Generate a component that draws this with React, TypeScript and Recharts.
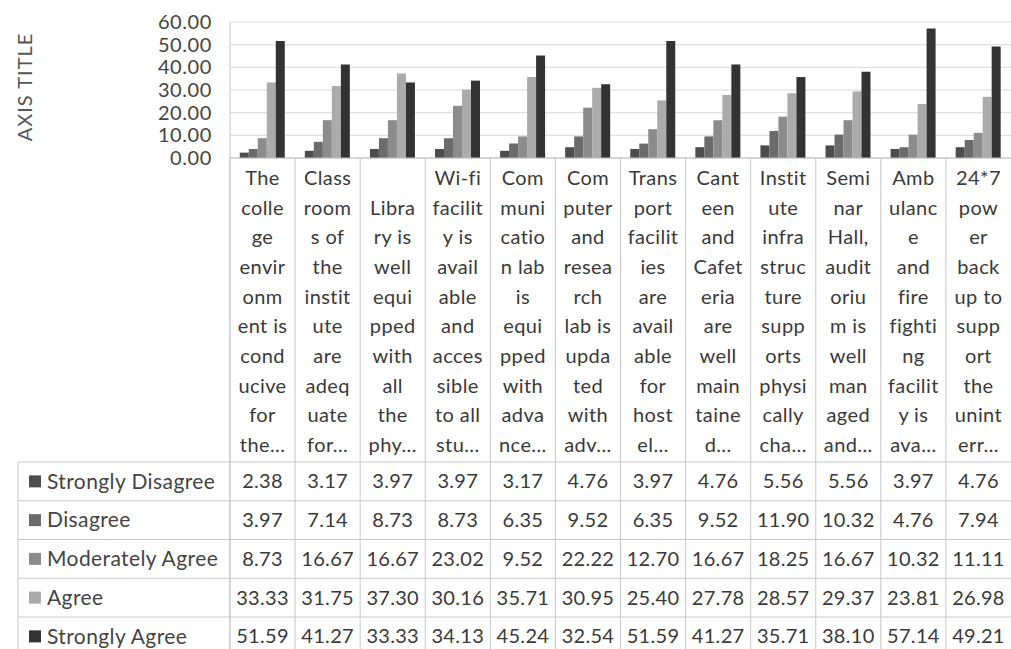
import React from 'react';
import { BarChart, Bar, XAxis, YAxis, CartesianGrid } from 'recharts';

const CATEGORIES = ['C1', 'C2', 'C3', 'C4', 'C5', 'C6', 'C7', 'C8', 'C9', 'C10', 'C11', 'C12'];

// wrapped tick labels, as Excel breaks them inside each column
const TICK_LINES = [
  ['The', 'colle', 'ge', 'envir', 'onm', 'ent is', 'cond', 'ucive', 'for', 'the...'],
  ['Class', 'room', 's of', 'the', 'instit', 'ute', 'are', 'adeq', 'uate', 'for...'],
  ['', 'Libra', 'ry is', 'well', 'equi', 'pped', 'with', 'all', 'the', 'phy...'],
  ['Wi-fi', 'facilit', 'y is', 'avail', 'able', 'and', 'acces', 'sible', 'to all', 'stu...'],
  ['Com', 'muni', 'catio', 'n lab', 'is', 'equi', 'pped', 'with', 'adva', 'nce...'],
  ['Com', 'puter', 'and', 'resea', 'rch', 'lab is', 'upda', 'ted', 'with', 'adv...'],
  ['Trans', 'port', 'facilit', 'ies', 'are', 'avail', 'able', 'for', 'host', 'el...'],
  ['Cant', 'een', 'and', 'Cafet', 'eria', 'are', 'well', 'main', 'taine', 'd...'],
  ['Instit', 'ute', 'infra', 'struc', 'ture', 'supp', 'orts', 'physi', 'cally', 'cha...'],
  ['Semi', 'nar', 'Hall,', 'audit', 'oriu', 'm is', 'well', 'man', 'aged', 'and...'],
  ['Amb', 'ulanc', 'e', 'and', 'fire', 'fighti', 'ng', 'facilit', 'y is', 'ava...'],
  ['24*7', 'pow', 'er', 'back', 'up to', 'supp', 'ort', 'the', 'unint', 'err...'],
];

const STRONGLY_DISAGREE = [2.38, 3.17, 3.97, 3.97, 3.17, 4.76, 3.97, 4.76, 5.56, 5.56, 3.97, 4.76];
const DISAGREE = [3.97, 7.14, 8.73, 8.73, 6.35, 9.52, 6.35, 9.52, 11.9, 10.32, 4.76, 7.94];
const MODERATELY_AGREE = [8.73, 16.67, 16.67, 23.02, 9.52, 22.22, 12.7, 16.67, 18.25, 16.67, 10.32, 11.11];
const AGREE = [33.33, 31.75, 37.3, 30.16, 35.71, 30.95, 25.4, 27.78, 28.57, 29.37, 23.81, 26.98];
const STRONGLY_AGREE = [51.59, 41.27, 33.33, 34.13, 45.24, 32.54, 51.59, 41.27, 35.71, 38.1, 57.14, 49.21];

const Y_TICKS = [0, 10, 20, 30, 40, 50, 60];

const SERIES = [
  { key: 'sd', name: 'Strongly Disagree', values: STRONGLY_DISAGREE, color: '#4d4d4d' },
  { key: 'd', name: 'Disagree', values: DISAGREE, color: '#6b6b6b' },
  { key: 'ma', name: 'Moderately Agree', values: MODERATELY_AGREE, color: '#8c8c8c' },
  { key: 'a', name: 'Agree', values: AGREE, color: '#ababab' },
  { key: 'sa', name: 'Strongly Agree', values: STRONGLY_AGREE, color: '#333333' },
];

const data = CATEGORIES.map((c, i) => {
  const row: Record<string, string | number> = { name: c };
  SERIES.forEach(s => { row[s.key] = s.values[i]; });
  return row;
});

const FONT = 'Lato, "Open Sans", sans-serif';
const W = 1011;
const H = 649;
const PLOT_LEFT = 230;
const PLOT_TOP = 22;
const PLOT_BOTTOM = 158;
const COL_W = (W - PLOT_LEFT) / CATEGORIES.length;
const LINE_H = 29.65;
const TABLE_TOP = 462;
const ROW_H = 38.75;
const GRID = '#c8c8c8';

const ColumnTick = (props: any) => {
  const { x, y, index } = props;
  const lines = TICK_LINES[index] || [];
  const left = x - COL_W / 2;
  return (
    <g>
      <line x1={left} x2={left} y1={y} y2={H} stroke={GRID} />
      {lines.map((t, i) => (
        <text key={i} x={x} y={y + 20 + i * LINE_H} dy="0.35em" textAnchor="middle"
          fontSize={20} letterSpacing={0.4} fontFamily={FONT} fill="#3a3a3a">{t}</text>
      ))}
      {SERIES.map((s, j) => (
        <text key={s.key} x={x} y={TABLE_TOP + ROW_H / 2 + j * ROW_H} dy="0.35em" textAnchor="middle"
          fontSize={20} letterSpacing={0.3} fontFamily={FONT} fill="#3a3a3a">{s.values[index].toFixed(2)}</text>
      ))}
    </g>
  );
};

const App: React.FC = () => {
  return (
    <div style={{ position: 'absolute', left: 0, top: 0, width: W, height: H, background: '#fff' }}>
      <BarChart width={W} height={H} data={data}
        margin={{ top: PLOT_TOP, right: 0, bottom: 0, left: 0 }}
        barCategoryGap="15%" barGap={0}>
        <CartesianGrid vertical={false} stroke="#d9d9d9" />
        <YAxis width={PLOT_LEFT} domain={[0, 60]} ticks={Y_TICKS} interval={0}
          tickSize={0} tickMargin={18} axisLine={false}
          tickFormatter={(v: number) => v.toFixed(2)}
          tick={{ fontSize: 20, fill: '#444', fontFamily: FONT, letterSpacing: 0.6 }} />
        <XAxis dataKey="name" height={H - PLOT_BOTTOM} interval={0} tickLine={false}
          tickSize={0} tickMargin={0} axisLine={{ stroke: '#bfbfbf' }} tick={<ColumnTick />} />
        {SERIES.map(s => (
          <Bar key={s.key} dataKey={s.key} name={s.name} fill={s.color} isAnimationActive={false} />
        ))}
      </BarChart>
      <svg width={W} height={H} style={{ position: 'absolute', left: 0, top: 0, pointerEvents: 'none' }}>
        <line x1={PLOT_LEFT} x2={PLOT_LEFT} y1={PLOT_TOP} y2={H} stroke={GRID} />
        <line x1={18} x2={18} y1={TABLE_TOP} y2={H} stroke={GRID} />
        {SERIES.map((s, j) => (
          <line key={'l' + s.key} x1={18} x2={W} y1={TABLE_TOP + j * ROW_H} y2={TABLE_TOP + j * ROW_H} stroke={GRID} />
        ))}
        {SERIES.map((s, j) => (
          <g key={s.key}>
            <rect x={29} y={TABLE_TOP + ROW_H / 2 + j * ROW_H - 6} width={12} height={12} fill={s.color} />
            <text x={47} y={TABLE_TOP + ROW_H / 2 + j * ROW_H} dy="0.35em" fontSize={21} letterSpacing={0.4}
              fontFamily={FONT} fill="#444">{s.name}</text>
          </g>
        ))}
        <text transform="rotate(-90)" x={-87} y={25} dy="0.35em" textAnchor="middle"
          fontSize={20} letterSpacing={1} fontFamily={FONT} fill="#555">AXIS TITLE</text>
      </svg>
    </div>
  );
};

export default App;
